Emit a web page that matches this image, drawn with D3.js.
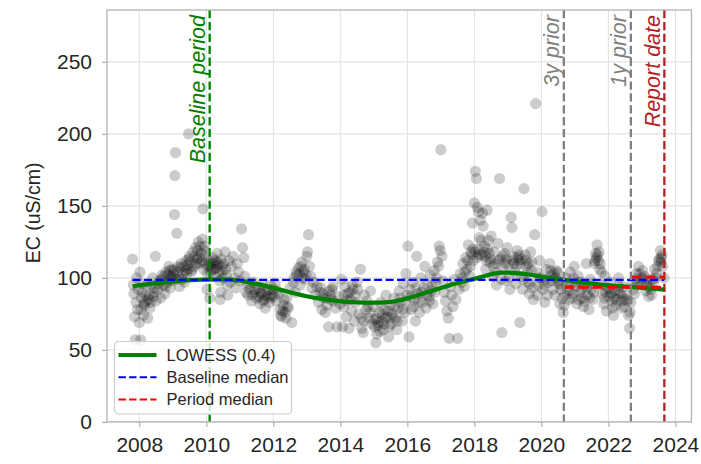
<!DOCTYPE html>
<html><head><meta charset="utf-8">
<script src="https://cdn.jsdelivr.net/npm/d3@7"></script>
<style>body{margin:0;background:#fff} svg{display:block;font-family:"Liberation Sans",Arial,sans-serif}</style>
</head><body><svg id="c" width="701" height="464"></svg>
<script>
// ---- data ----
const sampleYears = [
 2007.80,2007.82,2007.84,2007.86,2007.88,2007.90,2007.92,2007.95,2007.97,2008.00,2008.02,2008.04,2008.06,
 2008.10,2008.13,2008.16,2008.19,2008.22,2008.25,2008.28,2008.32,2008.36,2008.40,2008.44,2008.48,2008.50,
 2008.55,2008.60,2008.64,2008.68,2008.72,2008.76,2008.80,2008.84,2008.88,2008.92,2008.96,2009.00,
 2009.03,2009.05,2009.06,2009.08,2009.10,2009.12,2009.15,2009.20,2009.25,2009.30,2009.35,2009.40,2009.45,2009.47,2009.50,
 2009.55,2009.60,2009.64,2009.68,2009.72,2009.76,2009.80,2009.84,2009.88,2009.90,2009.92,2009.95,2009.98,
 2010.02,2010.05,2010.08,2010.10,2010.13,2010.16,2010.20,2010.24,2010.28,2010.32,2010.36,2010.40,2010.41,2010.43,2010.44,2010.48,
 2010.52,2010.56,2010.60,2010.64,2010.68,2010.72,2010.76,2010.80,2010.84,2010.88,2010.92,2010.96,2011.00,
 2011.05,2011.08,2011.12,2011.15,2011.20,2011.25,2011.30,2011.35,2011.40,2011.45,2011.50,
 2011.55,2011.60,2011.64,2011.68,2011.72,2011.76,2011.80,2011.84,2011.88,2011.92,2011.96,2012.00,
 2012.05,2012.10,2012.15,2012.20,2012.25,2012.30,2012.35,2012.40,2012.45,2012.50,2012.55,
 2012.60,2012.65,2012.70,2012.75,2012.80,2012.85,2012.90,2012.95,2013.00,2013.02,2013.05,2013.08,2013.12,2013.15,2013.20,
 2013.25,2013.30,2013.35,2013.40,2013.45,2013.50,2013.55,2013.60,2013.65,2013.70,2013.75,2013.80,2013.85,2013.90,2013.95,2014.00,
 2014.03,2014.07,2014.10,2014.14,2014.18,2014.22,2014.26,2014.30,2014.34,2014.38,2014.42,2014.46,2014.50,
 2014.55,2014.60,2014.64,2014.68,2014.72,2014.76,2014.80,2014.85,2014.90,2014.95,2015.00,
 2015.03,2015.06,2015.09,2015.12,2015.16,2015.20,2015.24,2015.28,2015.32,2015.36,2015.40,2015.44,2015.48,
 2015.52,2015.56,2015.60,2015.64,2015.68,2015.72,2015.76,2015.80,2015.84,2015.88,2015.92,2015.96,2016.00,
 2016.02,2016.05,2016.08,2016.12,2016.16,2016.20,2016.24,2016.28,2016.32,2016.36,2016.40,2016.44,2016.48,
 2016.52,2016.56,2016.60,2016.64,2016.68,2016.72,2016.76,2016.80,2016.85,2016.90,2016.95,2016.98,
 2017.00,2017.03,2017.06,2017.10,2017.14,2017.18,2017.22,2017.25,2017.28,2017.32,2017.36,2017.40,2017.45,2017.50,
 2017.54,2017.58,2017.62,2017.66,2017.70,2017.74,2017.78,2017.82,2017.86,2017.90,2017.94,2017.97,
 2018.00,2018.03,2018.06,2018.09,2018.12,2018.15,2018.18,2018.22,2018.26,2018.30,2018.34,2018.38,2018.42,2018.46,2018.50,
 2018.54,2018.58,2018.62,2018.66,2018.70,2018.75,2018.78,2018.82,2018.86,2018.90,2018.94,2018.98,
 2019.02,2019.06,2019.10,2019.12,2019.16,2019.20,2019.24,2019.28,2019.32,2019.36,2019.40,2019.44,2019.48,
 2019.52,2019.56,2019.60,2019.64,2019.68,2019.72,2019.76,2019.80,2019.83,2019.86,2019.90,2019.95,2019.98,
 2020.02,2020.05,2020.10,2020.15,2020.20,2020.25,2020.30,2020.35,2020.40,2020.45,2020.50,2020.55,2020.60,2020.65,
 2020.70,2020.74,2020.78,2020.82,2020.86,2020.90,2020.94,2020.98,
 2021.02,2021.06,2021.10,2021.14,2021.18,2021.22,2021.26,2021.30,2021.34,2021.38,2021.42,2021.46,2021.50,
 2021.54,2021.58,2021.62,2021.66,2021.70,2021.74,2021.78,2021.82,2021.86,2021.90,2021.94,2021.98,
 2022.02,2022.06,2022.10,2022.15,2022.20,2022.25,2022.30,2022.35,2022.40,2022.45,2022.50,2022.55,2022.60,2022.63,2022.67,
 2022.72,2022.78,2022.84,2022.90,2022.96,2023.02,2023.08,2023.14,2023.20,2023.26,2023.32,2023.38,2023.44,2023.50,2023.55,2023.58,2023.62,2023.66
];
const ecValues = [
 113,95,89,73,57,83,100,78,92,69,104,57,86,
 96,74,81,88,95,72,85,79,95,100,90,115,84,
 92,98,86,102,95,89,104,97,108,93,101,98,
 105,144,171,187,99,131,108,94,110,103,97,112,106,200,115,
 104,118,108,121,113,125,110,117,127,148,106,122,115,
 92,108,112,86,104,110,114,106,101,117,109,98,85,90,113,105,
 110,118,102,88,112,97,108,115,100,93,110,104,98,
 134,121,114,101,95,88,92,84,97,90,86,
 93,82,89,95,85,79,91,87,83,95,88,92,
 96,84,89,78,73,81,76,86,79,93,69,
 97,90,102,107,95,111,104,99,115,118,130,108,101,93,97,
 88,94,83,90,78,86,76,81,66,88,92,84,79,66,87,82,
 99,66,80,94,73,89,65,85,77,92,70,83,97,
 75,106,65,62,88,78,84,72,91,68,80,
 71,55,61,67,76,83,70,64,78,88,73,59,81,
 68,75,86,72,64,79,91,83,70,96,76,103,88,
 122,59,92,78,97,85,70,115,89,76,100,83,93,
 108,79,95,87,102,91,82,105,97,111,122,119,
 189,115,98,90,84,77,72,58,94,88,80,99,85,58,
 92,103,97,110,94,114,106,123,101,118,138,112,
 152,174,169,149,146,128,140,116,136,122,106,147,126,111,129,
 101,118,110,95,124,169,113,62,106,117,98,121,
 109,92,142,135,115,104,96,119,112,69,101,92,162,
 116,108,97,89,118,111,85,130,221,104,95,112,100,
 146,92,83,106,97,110,102,92,88,105,98,82,95,76,
 88,100,92,85,104,96,89,108,
 94,82,101,90,97,86,80,95,110,88,78,99,92,
 85,110,117,123,112,106,95,89,82,101,77,93,
 87,97,84,74,91,85,100,89,79,94,85,88,74,65,83,
 96,89,103,108,98,105,101,95,87,92,99,106,103,112,119,114,108,100
];
// additional samples in the dense parts of the cloud
const sampleYears2 = [
 2009.32,2009.42,2009.52,2009.58,2009.66,2009.70,2009.74,2009.78,2009.82,2009.86,2009.94,2009.96,
 2010.04,2010.12,2010.18,2010.22,2010.26,2010.30,2010.34,2010.38,2010.46,2010.50,2010.58,2010.62,
 2011.18,2011.28,2011.38,2011.48,2011.58,2011.62,2011.70,2011.78,2011.86,2011.90,2012.02,2012.12,
 2012.22,2012.28,2012.32,2012.38,2012.42,2012.62,2012.68,2012.78,2012.82,2012.88,2012.92,2012.98,
 2013.42,2013.48,2013.58,2013.68,2013.72,2013.78,2014.12,2014.20,2014.28,2014.36,2014.44,2014.52,
 2014.62,2014.70,2014.82,2014.88,2015.02,2015.08,2015.14,2015.18,2015.26,2015.30,2015.34,2015.42,
 2015.46,2015.54,2015.62,2015.70,2015.78,2015.86,2015.94,2016.10,2016.18,2016.26,2016.34,2016.42,
 2016.58,2016.66,2016.74,2016.82,2016.88,2016.93,2017.64,2017.72,2017.80,2017.88,2017.92,2017.96,
 2018.02,2018.08,2018.11,2018.14,2018.20,2018.24,2018.28,2018.32,2018.36,2018.40,2018.44,2018.48,
 2018.56,2018.64,2018.72,2018.80,2018.84,2018.92,2018.96,2019.04,2019.14,2019.18,2019.26,2019.30,
 2019.34,2019.38,2019.42,2019.46,2019.54,2019.58,2019.62,2019.66,2019.70,2019.74,2019.88,2019.92,
 2020.08,2020.12,2020.18,2020.28,2020.32,2020.38,2020.42,2020.48,2020.52,2020.58,2020.62,2020.68,
 2020.76,2020.84,2020.92,2020.96,2021.04,2021.12,2021.20,2021.28,2021.36,2021.44,2021.52,2021.56,
 2021.60,2021.64,2021.68,2021.72,2021.76,2021.80,2021.88,2021.92,2022.04,2022.08,2022.12,2022.18,
 2022.22,2022.28,2022.32,2022.38,2022.42,2022.48,2022.58,2022.65,2022.75,2022.81,2022.87,2022.93,
 2023.00,2023.05,2023.11,2023.17,2023.23,2023.29,2023.35,2023.41,2023.47,2023.52,2023.57,2023.60,
 2008.05,2008.08,2008.14,2008.20,2008.30,2008.34,2008.42,2008.46,2008.58,2008.66,2008.74,2008.78,
 2008.86,2008.90,2008.94,2008.98,2009.02,2009.14,2009.18,2009.22,2009.28,2009.38,2009.44,2009.48
];
const ecValues2 = [
 108,103,111,106,115,110,119,114,122,112,119,110,
 103,108,106,110,112,107,111,104,108,100,106,95,
 90,96,88,92,87,90,84,88,92,86,87,91,
 74,77,85,72,80,100,104,103,108,100,106,102,
 93,89,86,91,85,94,88,84,90,95,88,92,
 72,70,80,76,66,72,69,63,75,68,72,77,
 66,73,80,70,86,78,84,87,80,93,83,90,
 88,84,95,90,100,108,100,104,112,108,116,120,
 118,114,120,116,126,145,118,115,112,120,117,113,
 108,104,112,99,115,110,113,100,112,110,108,114,
 116,110,113,99,112,104,110,96,105,93,88,100,
 95,99,88,105,98,103,100,104,96,92,86,81,
 96,91,86,100,97,85,92,84,93,86,96,90,
 112,114,116,118,110,104,86,90,92,89,79,86,
 81,91,94,84,87,80,84,76,92,99,96,103,
 100,96,91,99,94,88,97,100,108,113,111,116,
 78,90,82,84,88,83,87,93,96,99,101,94,
 102,105,99,106,102,104,100,107,99,105,109,113
];
const lowessYears  = [2007.8,2008.5,2009,2009.5,2010,2010.5,2011,2011.5,2012,2012.5,2013,2013.5,2014,2014.5,2015,2015.5,2016,2016.5,2017,2017.5,2018,2018.5,2018.8,2019.5,2020,2020.5,2021,2021.5,2022,2022.5,2023,2023.7];
const lowessValues = [94.2,96.3,97.5,98.4,98.8,98.9,98.0,95.8,93.0,90.0,87.2,85.2,83.7,83.0,82.8,83.3,85.8,89.3,93.0,96.5,99.3,102.5,103.6,102.8,100.8,99.2,97.5,96.0,94.8,94.0,93.0,91.8];
const baselineMedian = {start: 2007.8, end: 2023.67, value: 98.6};
const periodMedians = [
  {start: 2020.67, end: 2023.67, value: 93.5},
  {start: 2022.67, end: 2023.67, value: 100.5}
];
const markerYears  = [2010.1, 2020.67, 2022.67, 2023.67];
const markerLabels = ["Baseline period", "3y prior", "1y prior", "Report date"];
const markerColors = ["green", "#808080", "#808080", "#b22222"];
const xTicks = [2008,2010,2012,2014,2016,2018,2020,2022,2024];
const yTicks = [0,50,100,150,200,250];
const yLabel = "EC (uS/cm)";
const legendItems = [
  {label: "LOWESS (0.4)", color: "green", width: 4.2, dash: null},
  {label: "Baseline median", color: "blue", width: 2, dash: "7.4,3.2"},
  {label: "Period median", color: "red", width: 2, dash: "7.4,3.2"}
];

// ---- layout ----
const L = 107, R = 691.5, T = 10, B = 421.9;
const x = d3.scaleLinear().domain([2007.036, 2024.48]).range([L, R]);
const y = d3.scaleLinear().domain([0, 286]).range([B, T]);
const svg = d3.select("#c");
const textCol = "#262626";
const FF = '"Liberation Sans",Arial,sans-serif';

// grid
const g = svg.append("g");
g.selectAll("line.gx").data(xTicks).join("line")
  .attr("x1", d => x(d)).attr("x2", d => x(d)).attr("y1", T).attr("y2", B)
  .attr("stroke", "#e3e3e3").attr("stroke-width", 1.1);
g.selectAll("line.gy").data(yTicks).join("line")
  .attr("x1", L).attr("x2", R).attr("y1", d => y(d)).attr("y2", d => y(d))
  .attr("stroke", "#e3e3e3").attr("stroke-width", 1.1);

// axes
const xAxis = svg.append("g").attr("transform", `translate(0,${B})`)
  .call(d3.axisBottom(x).tickValues(xTicks).tickFormat(d3.format("d")).tickSize(5).tickPadding(10).tickSizeOuter(0));
const yAxis = svg.append("g").attr("transform", `translate(${L},0)`)
  .call(d3.axisLeft(y).tickValues(yTicks).tickSize(5).tickPadding(10).tickSizeOuter(0));
[xAxis, yAxis].forEach(a => {
  a.select(".domain").remove();
  a.selectAll(".tick line").attr("stroke", "#b0b0b0").attr("stroke-width", 1.2);
  a.selectAll(".tick text").attr("fill", textCol).style("font-size", "21px").style("font-family", FF);
});

svg.append("text").attr("transform", `translate(40,${(T+B)/2 - 3}) rotate(-90)`)
  .attr("text-anchor", "middle").attr("fill", textCol).style("font-size", "19.5px").text(yLabel);

// scatter
const pts = sampleYears.map((t, i) => [t, ecValues[i]])
  .concat(sampleYears2.map((t, i) => [t, ecValues2[i]]));
svg.append("g").selectAll("circle").data(pts).join("circle")
  .attr("cx", d => x(d[0])).attr("cy", d => y(d[1])).attr("r", 5.6)
  .attr("fill", "#000").attr("fill-opacity", 0.2);

// lowess
const lw = lowessYears.map((t, i) => [t, lowessValues[i]]);
svg.append("path").datum(lw)
  .attr("d", d3.line().x(d => x(d[0])).y(d => y(d[1])).curve(d3.curveCatmullRom))
  .attr("fill", "none").attr("stroke", "green").attr("stroke-width", 4.2);

// baseline median
svg.append("line").attr("x1", x(baselineMedian.start)).attr("x2", x(baselineMedian.end))
  .attr("y1", y(baselineMedian.value)).attr("y2", y(baselineMedian.value))
  .attr("stroke", "blue").attr("stroke-width", 2.2).attr("stroke-dasharray", "8,3.5");

// period medians
svg.append("g").selectAll("line").data(periodMedians).join("line")
  .attr("x1", d => x(d.start)).attr("x2", d => x(d.end))
  .attr("y1", d => y(d.value)).attr("y2", d => y(d.value))
  .attr("stroke", "red").attr("stroke-width", 2.8).attr("stroke-dasharray", "10,4.5");

// vertical markers
const mk = markerYears.map((t, i) => ({t, label: markerLabels[i], color: markerColors[i]}));
svg.append("g").selectAll("line").data(mk).join("line")
  .attr("x1", d => x(d.t)).attr("x2", d => x(d.t)).attr("y1", T).attr("y2", B)
  .attr("stroke", d => d.color).attr("stroke-width", 2.3).attr("stroke-dasharray", "8.3,3.6");
svg.append("g").selectAll("text").data(mk).join("text")
  .attr("transform", d => `translate(${x(d.t) - 4.5},15) rotate(-90)`)
  .attr("text-anchor", "end").attr("fill", d => d.color)
  .style("font-size", "21.5px").style("font-style", "italic").text(d => d.label);

// frame
svg.append("rect").attr("x", L).attr("y", T).attr("width", R - L).attr("height", B - T)
  .attr("fill", "none").attr("stroke", "#b3b3b3").attr("stroke-width", 1.3);

// legend
const lg = svg.append("g").attr("transform", "translate(114.5,341.5)");
lg.append("rect").attr("width", 177).attr("height", 72.5).attr("rx", 4)
  .attr("fill", "#fff").attr("fill-opacity", 0.8).attr("stroke", "#cccccc").attr("stroke-width", 1.2);
const rows = lg.selectAll("g").data(legendItems).join("g")
  .attr("transform", (d, i) => `translate(0,${13.5 + i * 22.3})`);
rows.append("line").attr("x1", 4).attr("x2", 42).attr("y1", 0).attr("y2", 0)
  .attr("stroke", d => d.color).attr("stroke-width", d => d.width)
  .attr("stroke-dasharray", d => d.dash);
rows.append("text").attr("x", 52).attr("y", 0).attr("dy", "0.35em")
  .attr("fill", textCol).style("font-size", "16.5px").text(d => d.label);
</script></body></html>
